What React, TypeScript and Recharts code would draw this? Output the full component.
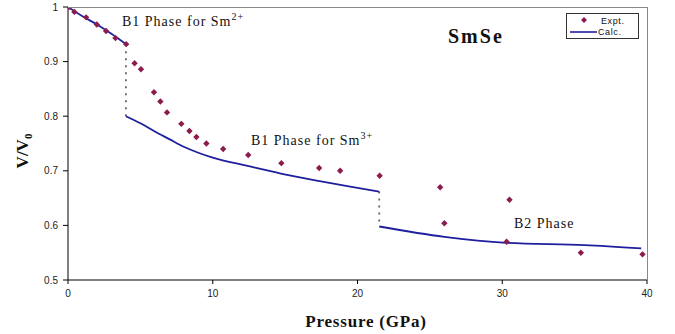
import React from 'react';
import {
  ComposedChart,
  Line,
  Scatter,
  XAxis,
  YAxis,
  Legend
} from 'recharts';

// experimental points (pressure in GPa, V/V0)
const exptP = [0.07, 0.44, 1.25, 1.99, 2.63, 3.28, 4.02, 4.6, 5.04, 5.94, 6.38, 6.84, 7.83, 8.39, 8.87, 9.56, 10.72, 12.45, 14.74, 17.35, 18.8, 21.53, 25.71, 26.0, 30.3, 30.5, 35.43, 39.69];
const exptV = [1.0, 0.991, 0.981, 0.968, 0.956, 0.943, 0.932, 0.897, 0.886, 0.844, 0.827, 0.807, 0.786, 0.773, 0.762, 0.75, 0.74, 0.729, 0.714, 0.705, 0.7, 0.691, 0.67, 0.604, 0.57, 0.647, 0.55, 0.547];

// calculated curve, one array pair per phase
const calcB1Sm2P = [0, 1, 2, 3, 4.0];
const calcB1Sm2V = [1.0, 0.983, 0.968, 0.951, 0.932];
const calcB1Sm3P = [4.0, 5.0, 6.0, 7.0, 8.0, 9.0, 10.0, 12.4, 14.7, 17.0, 19.3, 21.5];
const calcB1Sm3V = [0.8, 0.787, 0.772, 0.758, 0.744, 0.733, 0.724, 0.709, 0.695, 0.683, 0.672, 0.662];
const calcB2P = [21.5, 26.0, 30.3, 35.7, 39.6];
const calcB2V = [0.598, 0.579, 0.568, 0.564, 0.558];

// phase transitions (dotted verticals)
const jump1P = [4.0, 4.0];
const jump1V = [0.932, 0.8];
const jump2P = [21.5, 21.5];
const jump2V = [0.662, 0.598];

const xTicks = [0, 10, 20, 30, 40];
const yTicks = [0.5, 0.6, 0.7, 0.8, 0.9, 1];

const zip = (ps: number[], vs: number[]) => ps.map((p, i) => ({ p, v: vs[i] }));

const expt = zip(exptP, exptV);
const seg1 = zip(calcB1Sm2P, calcB1Sm2V);
const seg2 = zip(calcB1Sm3P, calcB1Sm3V);
const seg3 = zip(calcB2P, calcB2V);
const jump1 = zip(jump1P, jump1V);
const jump2 = zip(jump2P, jump2V);

const MARKER = '#8b1c4e';
const CALC = '#1f1f9e';
const SERIF = "'Liberation Serif', 'Times New Roman', serif";
const SANS = "'Liberation Sans', Arial, sans-serif";
const W = 675;
const H = 334;

const Diamond = (props: any) => {
  const { cx, cy } = props;
  const r = 3.2;
  return (
    <polygon
      points={`${cx},${cy - r} ${cx + r},${cy} ${cx},${cy + r} ${cx - r},${cy}`}
      fill={MARKER}
    />
  );
};

const LegendBox = () => (
  <div
    style={{
      position: 'absolute',
      left: 566,
      top: 13,
      width: 73,
      height: 26,
      border: '1px solid #333',
      background: '#fff',
      boxSizing: 'border-box'
    }}
  >
    <svg width={73} height={26} style={{ position: 'absolute', left: 0, top: 0 }} fontFamily={SANS}>
      <polygon points="17,3 20,6 17,9 14,6" fill={MARKER} />
      <line x1={3} x2={30} y1={18} y2={18} stroke={CALC} strokeWidth={1.6} />
      <text x={34} y={9.5} fontSize={9} fill="#111" letterSpacing={0.6}>Expt.</text>
      <text x={31} y={21} fontSize={9} fill="#111" letterSpacing={0.6}>Calc.</text>
    </svg>
  </div>
);

export default function App() {
  const tickStyle = { fontFamily: SANS, fontSize: 10, fill: '#222' };
  return (
    <div style={{ position: 'absolute', left: 0, top: 0, width: W, height: H, background: '#fff' }}>
      <ComposedChart
        width={W}
        height={H}
        margin={{ top: 7, right: 28, bottom: 0, left: 0 }}
      >
        <XAxis
          type="number"
          dataKey="p"
          domain={[0, 40]}
          ticks={xTicks}
          tickSize={4}
          tickMargin={6}
          height={54}
          stroke="#000"
          tick={tickStyle}
          allowDataOverflow
        />
        <YAxis
          type="number"
          dataKey="v"
          domain={[0.5, 1]}
          ticks={yTicks}
          tickSize={5}
          tickMargin={5}
          width={68}
          stroke="#000"
          tick={tickStyle}
          tickFormatter={(v: number) => String(Number(v.toFixed(1)))}
          allowDataOverflow
        />
        <Legend content={() => null} />
        <Line data={jump1} dataKey="v" type="linear" stroke="#666" strokeWidth={1.8} strokeDasharray="2 5" dot={false} isAnimationActive={false} legendType="none" />
        <Line data={jump2} dataKey="v" type="linear" stroke="#666" strokeWidth={1.8} strokeDasharray="2 5" dot={false} isAnimationActive={false} legendType="none" />
        <Line data={seg1} dataKey="v" name="Calc." type="monotone" stroke={CALC} strokeWidth={1.8} dot={false} isAnimationActive={false} />
        <Line data={seg2} dataKey="v" type="monotone" stroke={CALC} strokeWidth={1.8} dot={false} isAnimationActive={false} legendType="none" />
        <Line data={seg3} dataKey="v" type="monotone" stroke={CALC} strokeWidth={1.8} dot={false} isAnimationActive={false} legendType="none" />
        <Scatter data={expt} dataKey="v" name="Expt." shape={Diamond} isAnimationActive={false} />
      </ComposedChart>
      <svg
        width={W}
        height={H}
        style={{ position: 'absolute', left: 0, top: 0, pointerEvents: 'none' }}
      >
        {/* plot frame top and right */}
        <line x1={68} x2={647} y1={7.5} y2={7.5} stroke="#888" strokeWidth={1} />
        <line x1={647.5} x2={647.5} y1={7} y2={280} stroke="#888" strokeWidth={1} />
        <g fontFamily={SERIF} fill="#111">
          <text x={122} y={26} fontSize={14} letterSpacing={1}>
            B1 Phase for Sm<tspan dy={-6} fontSize={10}>2+</tspan>
          </text>
          <text x={251} y={145} fontSize={14} letterSpacing={1}>
            B1 Phase for Sm<tspan dy={-6} fontSize={10}>3+</tspan>
          </text>
          <text x={514} y={228} fontSize={14} letterSpacing={1}>B2 Phase</text>
          <text x={448} y={43} fontSize={20} fontWeight="bold" letterSpacing={2}>SmSe</text>
          <text x={366} y={327} fontSize={17} fontWeight="bold" letterSpacing={0.8} textAnchor="middle">
            Pressure (GPa)
          </text>
          <text
            x={0}
            y={0}
            fontSize={17}
            fontWeight="bold"
            textAnchor="middle"
            transform="translate(28,151) rotate(-90)"
          >
            V/V<tspan dy={4} fontSize={11}>0</tspan>
          </text>
        </g>
      </svg>
      <LegendBox />
    </div>
  );
}
